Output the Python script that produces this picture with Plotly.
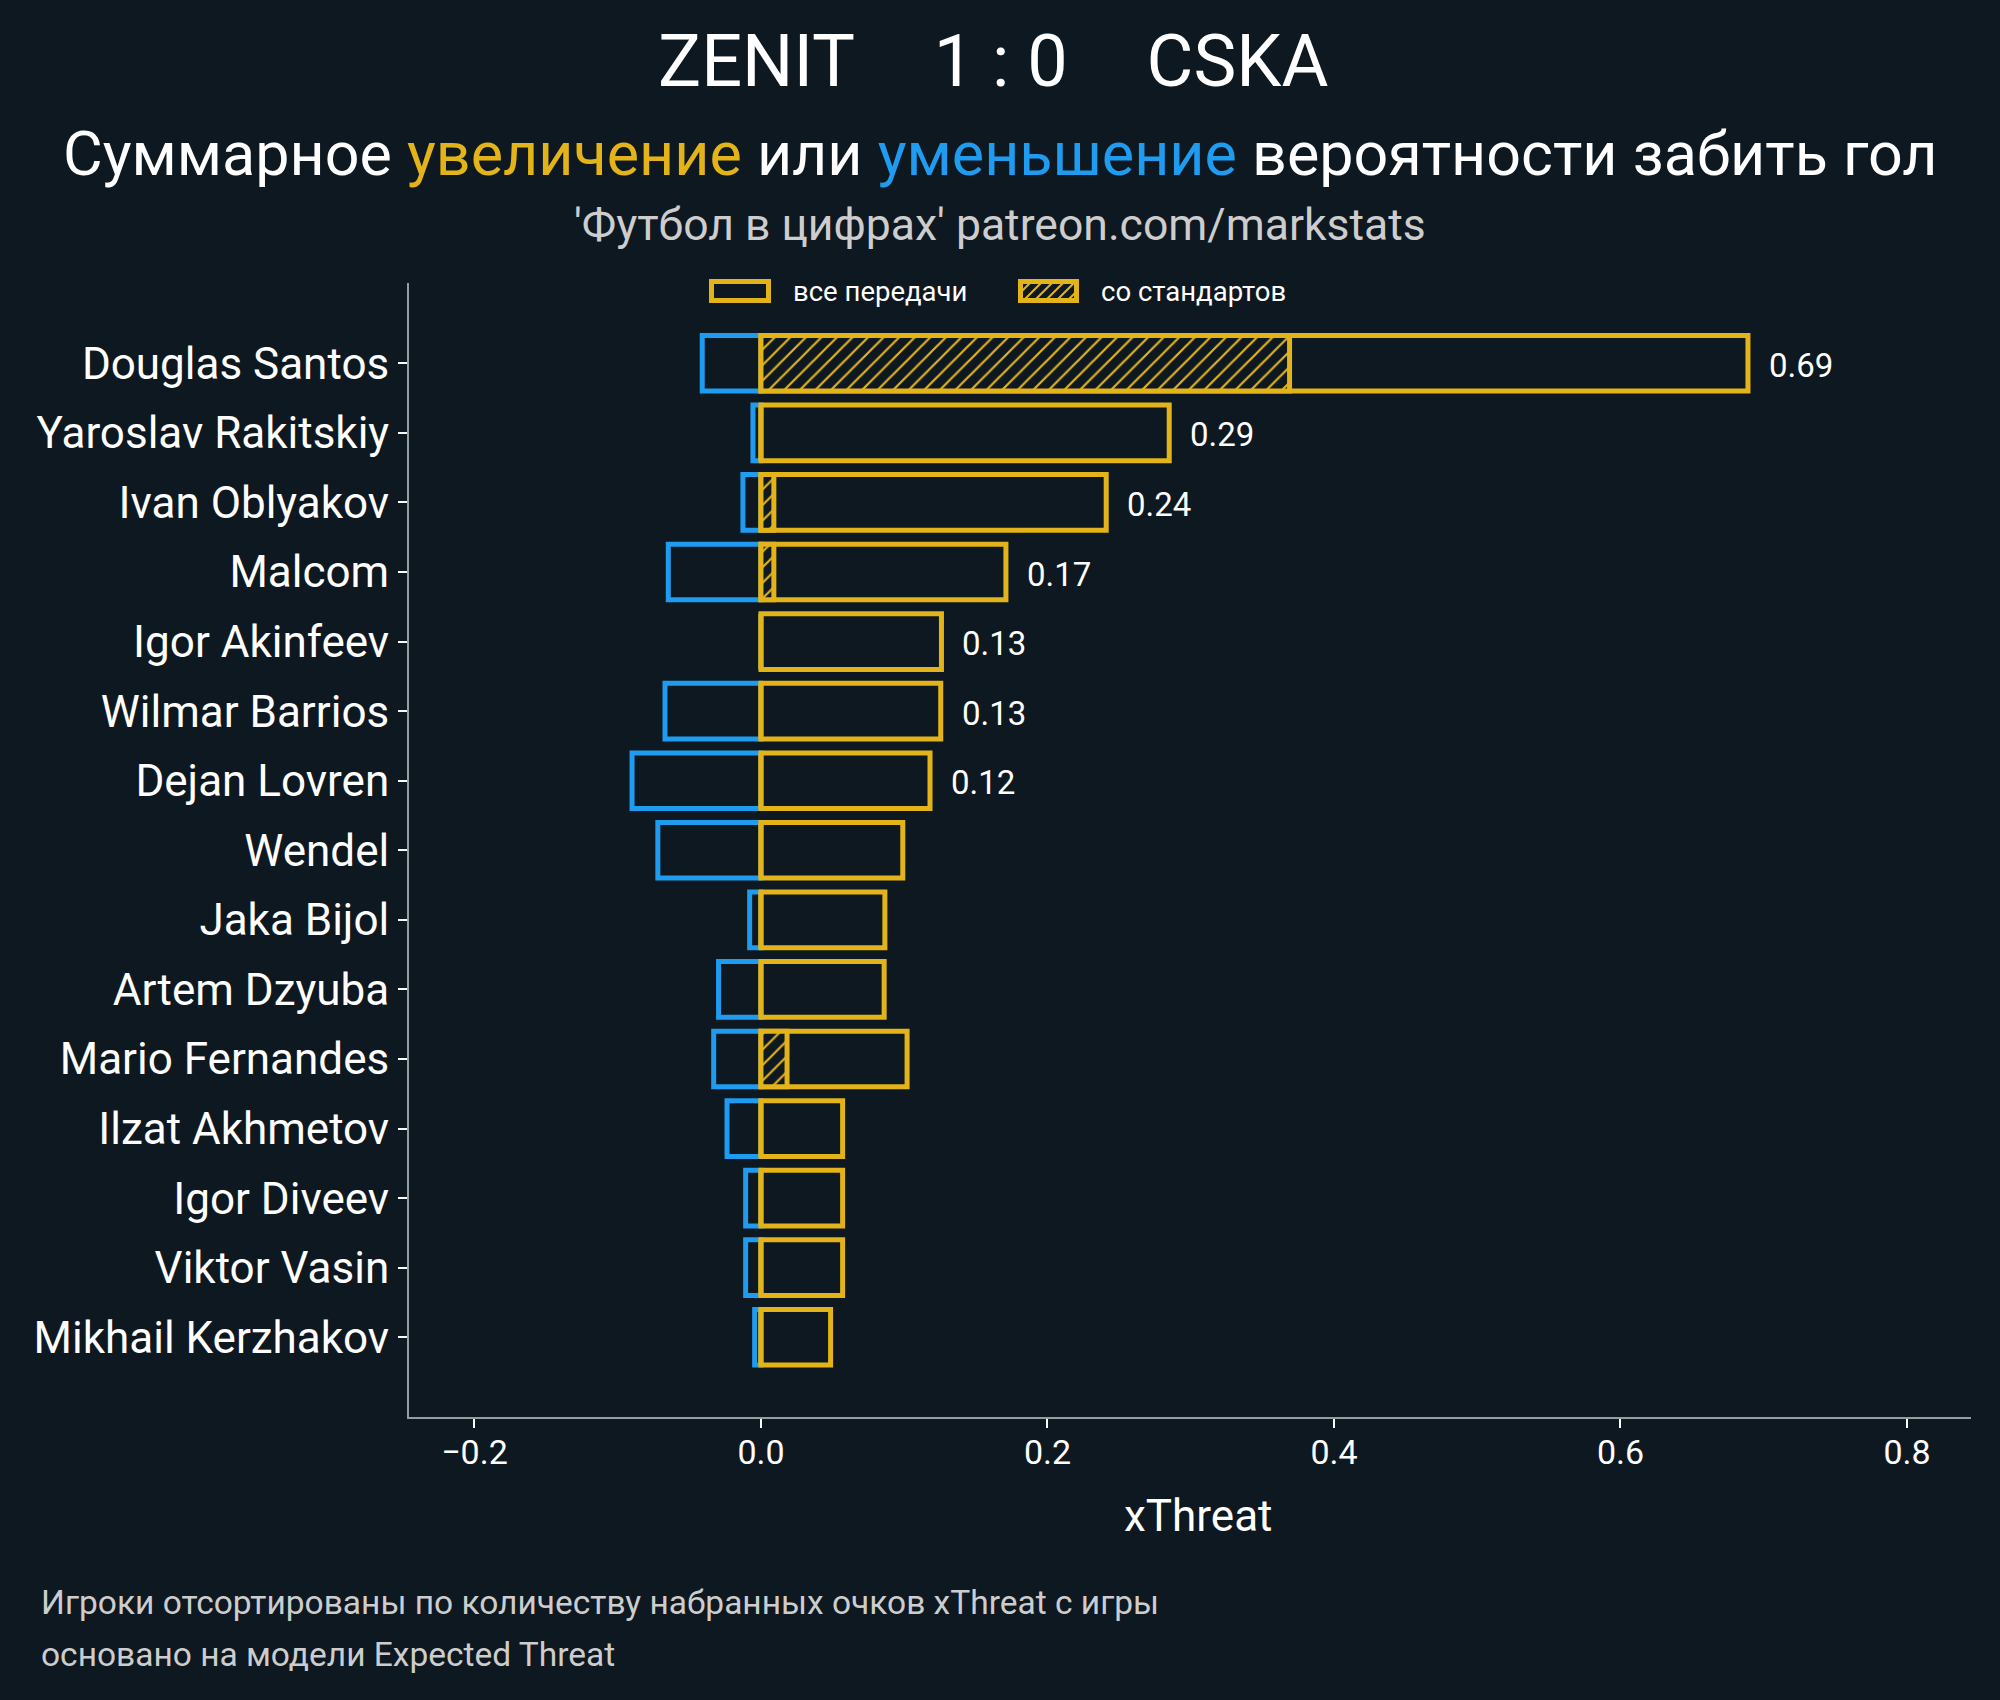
import plotly.graph_objects as go

# ---------------- data ----------------
players = ["Douglas Santos", "Yaroslav Rakitskiy", "Ivan Oblyakov", "Malcom",
           "Igor Akinfeev", "Wilmar Barrios", "Dejan Lovren", "Wendel",
           "Jaka Bijol", "Artem Dzyuba", "Mario Fernandes", "Ilzat Akhmetov",
           "Igor Diveev", "Viktor Vasin", "Mikhail Kerzhakov"]
xt_positive = [0.689, 0.285, 0.241, 0.171, 0.126, 0.1255, 0.118, 0.099,
               0.0865, 0.086, 0.102, 0.057, 0.057, 0.057, 0.0486]
xt_setpiece = [0.369, 0.0, 0.009, 0.009, 0.0, 0.0, 0.0, 0.0,
               0.0, 0.0, 0.0182, 0.0, 0.0, 0.0, 0.0]
xt_negative = [-0.041, -0.0056, -0.0126, -0.0647, 0.0, -0.067, -0.090, -0.072,
               -0.0079, -0.0296, -0.033, -0.0237, -0.0107, -0.0107, -0.0044]
value_labels = ["0.69", "0.29", "0.24", "0.17", "0.13", "0.13", "0.12",
                "", "", "", "", "", "", "", ""]
x_ticks = [-0.2, 0.0, 0.2, 0.4, 0.6, 0.8]
legend_labels = ["все передачи", "со стандартов"]

# ---------------- style ----------------
BG = "#0e1821"
YEL = "#e2b419"
BLU = "#1f9bef"
SPINE = "#8fa0a0"
GREY = "#cdcdcd"
FONT = "Roboto"

W, H = 2000, 1700
PL, PR, PT, PB = 409, 1971, 283, 1417


def px2x(px):
    return (px - PL) / (PR - PL)


def py2y(py):
    return (PB - py) / (PB - PT)


fig = go.Figure()

fig.add_trace(go.Bar(
    y=players, x=xt_negative, orientation="h", width=0.8,
    marker=dict(color="rgba(0,0,0,0)", line=dict(color=BLU, width=5)),
    showlegend=False, hoverinfo="skip"))
fig.add_trace(go.Bar(
    y=players, x=xt_positive, orientation="h", width=0.8,
    marker=dict(color=BG, line=dict(color=YEL, width=5)),
    showlegend=False, hoverinfo="skip"))
fig.add_trace(go.Bar(
    y=players, x=xt_setpiece, orientation="h", width=0.8,
    marker=dict(color=BG, line=dict(color=YEL, width=5),
                pattern=dict(shape="/", fgcolor=YEL, bgcolor=BG, size=11,
                             solidity=0.2, fillmode="replace")),
    showlegend=False, hoverinfo="skip"))

annotations = []
# value labels
for p, v, t in zip(players, xt_positive, value_labels):
    if t:
        annotations.append(dict(x=v, y=p, xref="x", yref="y", text=t,
                                showarrow=False, xanchor="left", yanchor="middle",
                                xshift=19, yshift=-2,
                                font=dict(family=FONT, size=33, color="white")))

SP = "\u00a0\u00a0\u00a0\u00a0\u200a"
# titles
annotations.append(dict(x=px2x(993), y=py2y(62), xref="paper", yref="paper",
                        text="ZENIT" + SP + "1 : 0" + SP + "CSKA",
                        showarrow=False, xanchor="center", yanchor="middle",
                        font=dict(family=FONT, size=72, color="white")))
annotations.append(dict(x=px2x(1000), y=py2y(154), xref="paper", yref="paper",
                        text=("Суммарное <span style='color:%s'>увеличение</span> или "
                              "<span style='color:%s'>уменьшение</span> вероятности забить гол") % (YEL, BLU),
                        showarrow=False, xanchor="center", yanchor="middle",
                        font=dict(family=FONT, size=61, color="white")))
annotations.append(dict(x=px2x(1000), y=py2y(225), xref="paper", yref="paper",
                        text="'Футбол в цифрах' patreon.com/markstats",
                        showarrow=False, xanchor="center", yanchor="middle",
                        font=dict(family=FONT, size=44.5, color=GREY)))
# x axis title
annotations.append(dict(x=px2x(1198), y=py2y(1516), xref="paper", yref="paper",
                        text="xThreat", showarrow=False, xanchor="center", yanchor="middle",
                        font=dict(family=FONT, size=44, color="white")))
# footnotes
annotations.append(dict(x=px2x(39), y=py2y(1602), xref="paper", yref="paper",
                        text="Игроки отсортированы по количеству набранных очков xThreat с игры",
                        showarrow=False, xanchor="left", yanchor="middle",
                        font=dict(family=FONT, size=33.5, color=GREY)))
annotations.append(dict(x=px2x(39), y=py2y(1654), xref="paper", yref="paper",
                        text="основано на модели Expected Threat",
                        showarrow=False, xanchor="left", yanchor="middle",
                        font=dict(family=FONT, size=33.5, color=GREY)))

# custom legend
shapes = []
boxes = [(711.5, 768.5), (1020.5, 1076.5)]
btop, bbot = 281.5, 300.5
text_left = [791, 1099]
for i, (bx0, bx1) in enumerate(boxes):
    if i == 1:
        w_, h_ = bx1 - bx0, bbot - btop
        c = -h_
        path = ""
        while c < w_:
            u0, u1 = max(0, c), min(w_, h_ + c)
            if u1 > u0:
                path += "M%.5f,%.5f L%.5f,%.5f " % (
                    px2x(bx0 + u0), py2y(bbot - (u0 - c)),
                    px2x(bx0 + u1), py2y(bbot - (u1 - c)))
            c += 11
        shapes.append(dict(type="path", xref="paper", yref="paper", path=path,
                           line=dict(color=YEL, width=2)))
    shapes.append(dict(type="rect", xref="paper", yref="paper",
                       x0=px2x(bx0), x1=px2x(bx1), y0=py2y(bbot), y1=py2y(btop),
                       line=dict(color=YEL, width=5), fillcolor="rgba(0,0,0,0)"))
    annotations.append(dict(x=px2x(text_left[i]), y=py2y(291), xref="paper", yref="paper",
                            text=legend_labels[i], showarrow=False, xanchor="left",
                            yanchor="middle", font=dict(family=FONT, size=27.5, color="white")))

fig.update_layout(
    width=W, height=H,
    paper_bgcolor=BG, plot_bgcolor=BG,
    barmode="overlay",
    margin=dict(l=PL, r=W - PR, t=PT, b=H - PB, pad=0),
    font=dict(family=FONT, color="white"),
    showlegend=False,
    annotations=annotations,
    shapes=shapes,
    xaxis=dict(range=[-0.2457, 0.8447], tickvals=x_ticks, tickformat=".1f",
               showgrid=False, zeroline=False, showline=True, linecolor=SPINE,
               linewidth=2, ticks="outside", ticklen=9, tickwidth=2, tickcolor="white",
               ticklabelstandoff=-5,
               tickfont=dict(family=FONT, size=34, color="white")),
    yaxis=dict(categoryorder="array", categoryarray=players,
               range=[15.146, -1.154], showgrid=False, zeroline=False,
               showline=True, linecolor=SPINE, linewidth=2,
               ticks="outside", ticklen=9, tickwidth=2, tickcolor="white",
               ticklabelstandoff=0,
               tickfont=dict(family=FONT, size=44, color="white")),
)

fig.write_html("out.html", config={"displayModeBar": False},
               post_script="document.body.style.margin='0';document.body.style.overflow='hidden';document.body.style.background='%s';" % BG)
